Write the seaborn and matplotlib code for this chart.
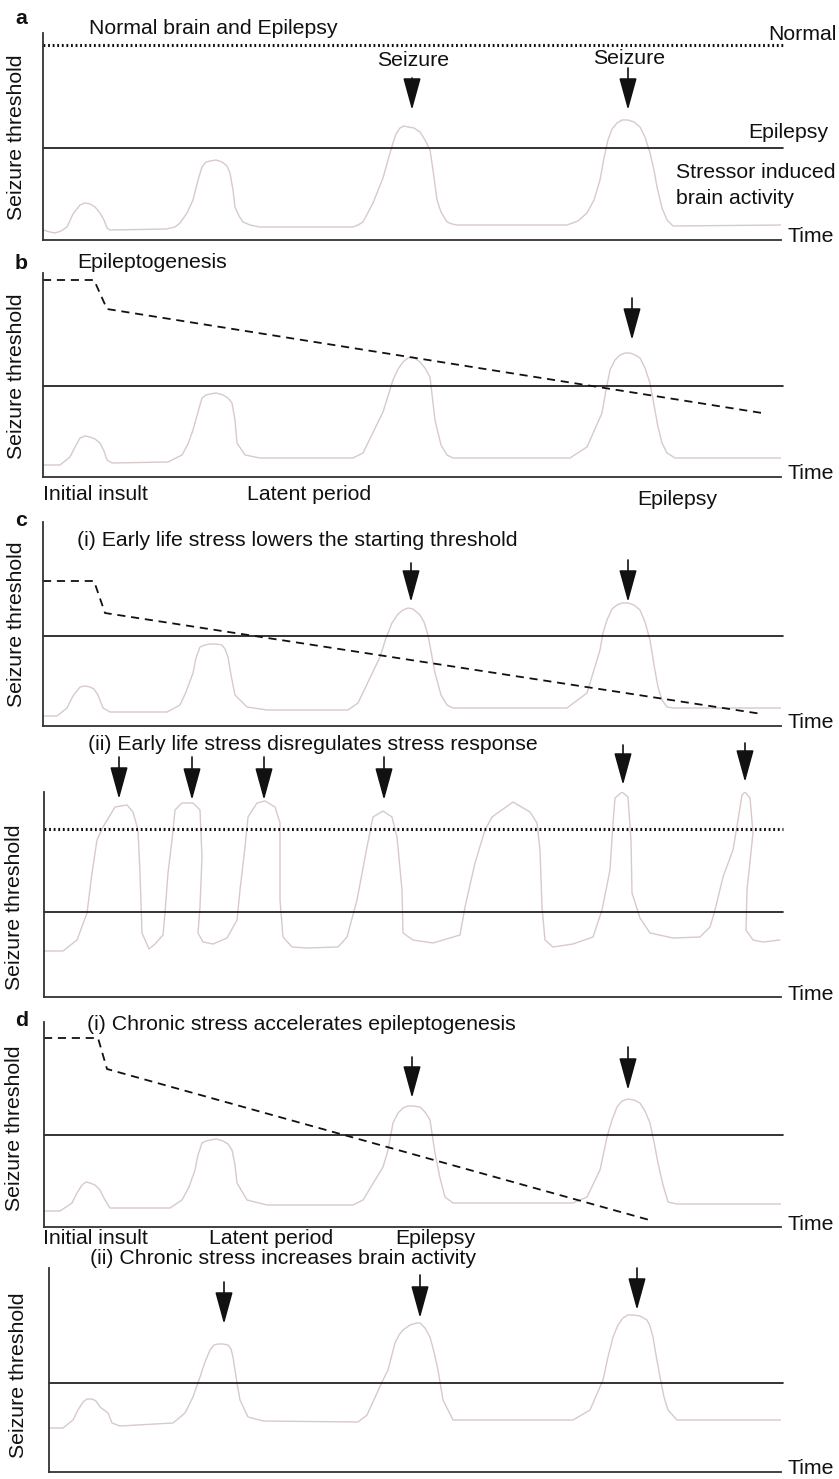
import matplotlib.pyplot as plt
import seaborn as sns

W, H = 839, 1479
RIGHT = 781

sns.set_style("white")
plt.rcParams['font.family'] = ['Liberation Sans', 'DejaVu Sans']

CURVE = '#d9c9c9'
INK = '#111111'
FS = 15.3

# Panel boxes: (left spine x, top, bottom) in figure pixels
box_a = (43, 33, 240)
box_b = (43, 273, 477)
box_c1 = (43, 522, 726)
box_c2 = (44, 792, 997)
box_d1 = (44, 1022, 1227)
box_d2 = (49, 1268, 1472)

# Stressor induced brain activity traces
a_x = [43, 50, 55, 61, 67, 73, 80, 85, 90, 95, 100, 104, 107, 110, 167, 175, 180, 187, 193, 198,
       202, 206, 210, 216, 222, 227, 230, 233, 235, 239, 243, 250, 260, 353, 358, 363, 373, 383,
       388, 393, 396, 400, 404, 408, 414, 420, 425, 430, 433, 437, 441, 447, 452, 457, 567, 578,
       587, 594, 600, 604, 608, 612, 617, 622, 628, 634, 640, 645, 650, 654, 657, 662, 667, 673,
       782]
a_y = [230, 232, 233, 231, 227, 214, 205, 203, 204, 207, 213, 220, 228, 230, 229, 227, 223, 213,
       200, 180, 167, 162, 161, 160, 162, 166, 173, 190, 207, 216, 222, 225, 227, 227, 225, 222,
       203, 178, 160, 143, 134, 128, 126, 127, 128, 132, 140, 150, 170, 200, 212, 222, 224, 225,
       225, 221, 213, 200, 180, 158, 140, 129, 123, 120, 120, 122, 127, 137, 153, 170, 187, 208,
       220, 226, 225]

b_x = [43, 60, 70, 75, 80, 85, 90, 95, 100, 104, 107, 112, 168, 182, 188, 193, 198, 202, 206, 210,
       216, 223, 228, 232, 235, 237, 245, 260, 353, 363, 383, 393, 398, 403, 408, 413, 420, 425,
       430, 435, 441, 447, 453, 570, 587, 602, 606, 610, 615, 620, 625, 630, 635, 640, 645, 650,
       654, 658, 662, 667, 675, 783]
b_y = [465, 465, 457, 447, 438, 436, 437, 439, 443, 451, 460, 463, 462, 455, 444, 430, 412, 398,
       395, 394, 393, 395, 398, 403, 420, 443, 455, 458, 458, 453, 412, 380, 369, 362, 358, 357,
       362, 368, 377, 420, 445, 455, 458, 458, 447, 413, 390, 370, 360, 355, 353, 353, 355, 358,
       368, 383, 405, 427, 443, 453, 458, 458]

c1_x = [43, 57, 67, 73, 80, 85, 90, 94, 98, 103, 110, 167, 180, 186, 193, 196, 200, 205, 210, 216,
        222, 225, 228, 231, 235, 247, 267, 348, 358, 380, 386, 392, 398, 403, 408, 413, 420, 424,
        428, 435, 441, 447, 453, 567, 587, 600, 603, 607, 612, 617, 622, 628, 634, 640, 645, 650,
        654, 658, 662, 667, 673, 782]
c1_y = [716, 716, 708, 696, 687, 686, 687, 689, 695, 708, 712, 712, 705, 692, 673, 658, 647, 645,
        644, 644, 645, 649, 657, 675, 695, 707, 710, 710, 703, 657, 638, 623, 614, 610, 608, 609,
        615, 622, 635, 673, 695, 705, 708, 708, 693, 650, 633, 620, 609, 605, 603, 603, 605, 610,
        622, 640, 665, 687, 700, 707, 708, 708]

c2_x = [44, 63, 77, 87, 92, 97, 103, 115, 127, 133, 138, 140, 142, 149, 155, 163, 165, 168, 172,
        175, 182, 193, 200, 202, 200, 198, 203, 213, 227, 237, 240, 245, 248, 257, 265, 275, 280,
        280, 283, 292, 307, 338, 347, 357, 367, 373, 383, 392, 397, 402, 403, 413, 433, 460, 465,
        475, 485, 492, 513, 530, 537, 540, 542, 545, 553, 573, 593, 602, 610, 613, 615, 622, 628,
        631, 632, 640, 650, 673, 700, 710, 715, 723, 733, 738, 742, 745, 750, 753, 747, 746, 753,
        763, 780]
c2_y = [951, 951, 940, 913, 873, 840, 827, 807, 805, 812, 830, 873, 933, 949, 944, 935, 913, 873,
        840, 810, 803, 803, 810, 857, 907, 933, 942, 944, 938, 920, 890, 847, 817, 803, 801, 807,
        823, 900, 937, 947, 948, 947, 937, 900, 847, 817, 811, 817, 837, 890, 933, 940, 943, 935,
        907, 863, 830, 817, 802, 812, 823, 850, 907, 940, 947, 944, 937, 910, 870, 823, 798, 792,
        797, 840, 893, 918, 933, 938, 937, 927, 910, 877, 850, 820, 795, 792, 798, 833, 890, 930,
        940, 942, 940]

d1_x = [44, 60, 72, 77, 82, 86, 90, 95, 100, 105, 110, 170, 182, 189, 195, 198, 202, 206, 210, 216,
        223, 228, 232, 235, 237, 247, 267, 353, 363, 383, 388, 393, 398, 403, 408, 413, 420, 425,
        430, 435, 440, 445, 453, 573, 587, 600, 607, 612, 617, 622, 628, 634, 640, 645, 650, 654,
        658, 663, 668, 677, 782]
d1_y = [1211, 1211, 1203, 1193, 1185, 1182, 1183, 1185, 1190, 1200, 1208, 1208, 1200, 1187, 1170,
        1155, 1143, 1141, 1140, 1139, 1141, 1144, 1150, 1165, 1183, 1200, 1205, 1205, 1200, 1167,
        1150, 1123, 1113, 1108, 1106, 1106, 1107, 1112, 1120, 1153, 1178, 1197, 1203, 1203, 1197,
        1170, 1137, 1120, 1107, 1101, 1099, 1100, 1103, 1111, 1123, 1142, 1163, 1185, 1202, 1204,
        1204]

d2_x = [49, 63, 73, 78, 83, 87, 92, 96, 100, 108, 112, 120, 173, 185, 193, 200, 205, 210, 214, 218,
        223, 228, 231, 233, 237, 240, 248, 263, 358, 367, 382, 388, 395, 399, 403, 410, 417, 420,
        425, 430, 434, 438, 443, 453, 573, 590, 603, 608, 613, 618, 623, 628, 633, 640, 647, 650,
        653, 656, 660, 664, 668, 677, 787]
d2_y = [1428, 1428, 1420, 1410, 1402, 1399, 1399, 1401, 1407, 1413, 1423, 1426, 1423, 1413, 1397,
        1377, 1362, 1350, 1345, 1344, 1344, 1345, 1349, 1357, 1383, 1400, 1417, 1421, 1422, 1415,
        1382, 1370, 1343, 1335, 1330, 1325, 1323, 1323, 1328, 1337, 1352, 1370, 1400, 1420, 1420,
        1410, 1380, 1357, 1337, 1325, 1318, 1315, 1315, 1316, 1320, 1326, 1337, 1355, 1377, 1397,
        1410, 1420, 1420]

# Seizure threshold during epileptogenesis (dashed)
b_thr_x, b_thr_y = [43, 94, 107, 762], [280, 280, 309, 413]
c1_thr_x, c1_thr_y = [43, 94, 105, 762], [581, 581, 613, 714]
d1_thr_x, d1_thr_y = [44, 98, 107, 653], [1038, 1038, 1069, 1221]

# Epilepsy threshold (solid) and normal threshold (dotted) levels
a_epi, a_norm = 148, 45
b_epi = 386
c1_epi = 636
c2_epi, c2_norm = 912, 829
d1_epi = 1135
d2_epi = 1383

# Seizure arrows: (x, stem start, tip)
a_arrows = [(412, 78, 110), (628, 68, 110)]
b_arrows = [(632, 298, 340)]
c1_arrows = [(411, 563, 602), (628, 560, 602)]
c2_arrows = [(119, 757, 799), (192, 757, 800), (264, 757, 800), (384, 757, 800),
             (623, 745, 785), (745, 743, 782)]
d1_arrows = [(412, 1057, 1098), (628, 1047, 1090)]
d2_arrows = [(224, 1282, 1324), (420, 1275, 1318), (637, 1268, 1310)]

fig = plt.figure(figsize=(W / 100, H / 100), dpi=100)


def panel(box, cx, cy, epi, arrows, label_y, norm=None, thr=None):
    left, top, bottom = box
    ax = fig.add_axes([left / W, 1 - bottom / H, (RIGHT - left) / W, (bottom - top) / H])
    ax.set_xlim(left, RIGHT)
    ax.set_ylim(bottom, top)
    ax.set_xticks([])
    ax.set_yticks([])
    sns.despine(ax=ax)
    for s in ['left', 'bottom']:
        ax.spines[s].set_linewidth(1.3)
        ax.spines[s].set_color('#333333')
    sns.lineplot(x=cx, y=cy, sort=False, estimator=None, color=CURVE, lw=1.0, ax=ax,
                 solid_joinstyle='round')
    ax.plot([left, 783], [epi, epi], color=INK, lw=1.2, clip_on=False)
    if norm is not None:
        ax.plot([left, 783], [norm, norm], color=INK, lw=2.2, linestyle=(0, (0.6, 0.9)),
                clip_on=False)
    if thr is not None:
        sns.lineplot(x=thr[0], y=thr[1], sort=False, estimator=None, color=INK, lw=1.3,
                     linestyle=(0, (4.5, 3.2)), ax=ax)
    for x, y0, y1 in arrows:
        ax.annotate('', xy=(x, y1), xytext=(x, y0), annotation_clip=False,
                    arrowprops=dict(arrowstyle='-|>,head_length=2.0,head_width=0.55',
                                    mutation_scale=10, lw=1.2, color=INK,
                                    shrinkA=0, shrinkB=0))
    ax.text(788, bottom - 3, 'Time', fontsize=FS, color=INK, ha='left', va='center')
    ax.text(label_y[0], label_y[1], 'Seizure threshold', fontsize=FS, color=INK,
            rotation=90, ha='center', va='center')
    return ax


ax_a = panel(box_a, a_x, a_y, a_epi, a_arrows, (17, 137), norm=a_norm)
ax_b = panel(box_b, b_x, b_y, b_epi, b_arrows, (17, 376), thr=(b_thr_x, b_thr_y))
ax_c1 = panel(box_c1, c1_x, c1_y, c1_epi, c1_arrows, (17, 624), thr=(c1_thr_x, c1_thr_y))
ax_c2 = panel(box_c2, c2_x, c2_y, c2_epi, c2_arrows, (15, 907), norm=c2_norm)
ax_d1 = panel(box_d1, d1_x, d1_y, d1_epi, d1_arrows, (15, 1128), thr=(d1_thr_x, d1_thr_y))
ax_d2 = panel(box_d2, d2_x, d2_y, d2_epi, d2_arrows, (19, 1375))

# Text annotations, placed in each panel's pixel-based data coordinates
t = dict(fontsize=FS, color=INK, ha='left', va='center')
for ax, x, y, s in [
    (ax_a, 89, 28, 'Normal brain and Epilepsy'),
    (ax_a, 768, 35, 'Normal'),
    (ax_a, 377, 60, 'Seizure'),
    (ax_a, 593, 58, 'Seizure'),
    (ax_a, 748, 132, 'Epilepsy'),
    (ax_a, 676, 173, 'Stressor induced'),
    (ax_a, 676, 198, 'brain activity'),
    (ax_b, 77, 263, 'Epileptogenesis'),
    (ax_b, 43, 495, 'Initial insult'),
    (ax_b, 247, 495, 'Latent period'),
    (ax_b, 637, 500, 'Epilepsy'),
    (ax_c1, 77, 540, '(i) Early life stress lowers the starting threshold'),
    (ax_c2, 88, 745, '(ii) Early life stress disregulates stress response'),
    (ax_d1, 87, 1025, '(i) Chronic stress accelerates epileptogenesis'),
    (ax_d1, 43, 1239, 'Initial insult'),
    (ax_d1, 209, 1239, 'Latent period'),
    (ax_d1, 395, 1239, 'Epilepsy'),
    (ax_d2, 90, 1258, '(ii) Chronic stress increases brain activity'),
]:
    ax.text(x, y, s, **t)

for ax, y, s in [(ax_a, 18, 'a'), (ax_b, 264, 'b'), (ax_c1, 520, 'c'), (ax_d1, 1021, 'd')]:
    ax.text(15, y, s, fontsize=FS, fontweight='bold', color=INK, ha='left', va='center')

fig.savefig('out.png', dpi=100)
